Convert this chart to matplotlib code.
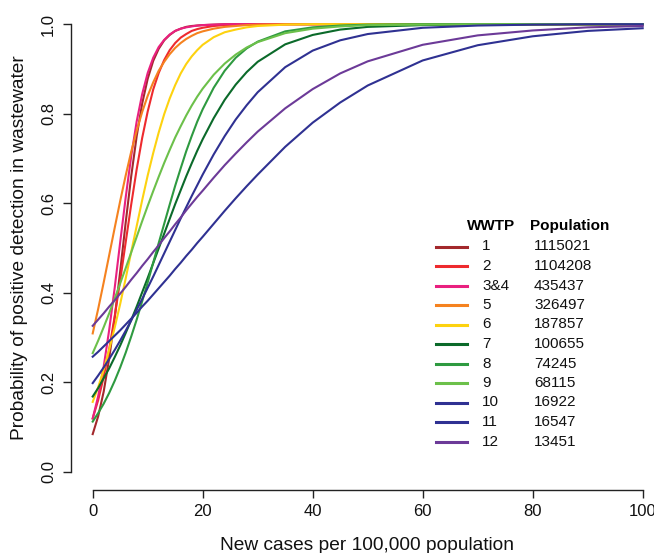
import matplotlib
matplotlib.use("Agg")
import matplotlib.pyplot as plt

plt.rcParams["font.family"] = ["Liberation Sans", "DejaVu Sans"]

# new cases per 100,000 (x positions where the curves were read)
cases = [0, 1, 2, 3, 4, 5, 6, 7, 8, 9, 10, 11, 12, 13, 14, 15, 16, 17, 18, 19, 20,
         22, 24, 26, 28, 30, 35, 40, 45, 50, 60, 70, 80, 90, 100]

# probability of positive detection
wwtp_1 = [0.084, 0.124, 0.179, 0.253, 0.344, 0.448, 0.557, 0.660, 0.750, 0.823, 0.878,
          0.918, 0.945, 0.964, 0.976, 0.985, 0.990, 0.994, 0.996, 0.997, 0.998,
          0.999, 1.000, 1.000, 1.000, 1.000, 1.000, 1.000, 1.000, 1.000, 1.000, 1.000, 1.000, 1.000, 1.000]
wwtp_2 = [0.119, 0.160, 0.212, 0.274, 0.347, 0.428, 0.513, 0.597, 0.676, 0.746, 0.805,
          0.854, 0.891, 0.920, 0.942, 0.958, 0.970, 0.978, 0.985, 0.989, 0.992,
          0.996, 0.998, 0.999, 1.000, 1.000, 1.000, 1.000, 1.000, 1.000, 1.000, 1.000, 1.000, 1.000, 1.000]
wwtp_34 = [0.119, 0.169, 0.235, 0.317, 0.411, 0.513, 0.613, 0.705, 0.783, 0.844, 0.891,
           0.925, 0.949, 0.965, 0.977, 0.985, 0.990, 0.993, 0.995, 0.997, 0.998,
           0.999, 1.000, 1.000, 1.000, 1.000, 1.000, 1.000, 1.000, 1.000, 1.000, 1.000, 1.000, 1.000, 1.000]
wwtp_5 = [0.309, 0.364, 0.423, 0.484, 0.545, 0.605, 0.662, 0.715, 0.762, 0.804, 0.840,
          0.870, 0.896, 0.916, 0.933, 0.947, 0.958, 0.967, 0.974, 0.980, 0.984,
          0.990, 0.994, 0.996, 0.998, 0.999, 1.000, 1.000, 1.000, 1.000, 1.000, 1.000, 1.000, 1.000, 1.000]
wwtp_6 = [0.156, 0.189, 0.228, 0.273, 0.322, 0.375, 0.432, 0.491, 0.549, 0.607, 0.662,
          0.712, 0.758, 0.799, 0.834, 0.864, 0.890, 0.911, 0.928, 0.942, 0.954,
          0.971, 0.982, 0.988, 0.993, 0.996, 0.999, 1.000, 1.000, 1.000, 1.000, 1.000, 1.000, 1.000, 1.000]
wwtp_7 = [0.168, 0.187, 0.209, 0.231, 0.256, 0.282, 0.310, 0.339, 0.369, 0.401, 0.433,
          0.466, 0.499, 0.532, 0.565, 0.598, 0.629, 0.660, 0.689, 0.717, 0.743,
          0.790, 0.831, 0.865, 0.893, 0.916, 0.955, 0.976, 0.988, 0.994, 0.998, 1.000, 1.000, 1.000, 1.000]
wwtp_8 = [0.112, 0.131, 0.152, 0.176, 0.203, 0.233, 0.266, 0.302, 0.340, 0.381, 0.423,
          0.467, 0.511, 0.554, 0.597, 0.639, 0.678, 0.716, 0.750, 0.782, 0.810,
          0.858, 0.896, 0.925, 0.946, 0.961, 0.984, 0.993, 0.997, 0.999, 1.000, 1.000, 1.000, 1.000, 1.000]
wwtp_9 = [0.265, 0.293, 0.323, 0.354, 0.387, 0.421, 0.455, 0.490, 0.525, 0.560, 0.594,
          0.627, 0.659, 0.690, 0.719, 0.747, 0.772, 0.796, 0.818, 0.838, 0.856,
          0.887, 0.912, 0.932, 0.948, 0.960, 0.980, 0.990, 0.995, 0.998, 0.999, 1.000, 1.000, 1.000, 1.000]
wwtp_10 = [0.198, 0.215, 0.233, 0.252, 0.272, 0.293, 0.315, 0.338, 0.362, 0.386, 0.411,
           0.436, 0.462, 0.488, 0.514, 0.540, 0.566, 0.591, 0.616, 0.640, 0.664,
           0.709, 0.750, 0.787, 0.819, 0.848, 0.904, 0.941, 0.964, 0.978, 0.992, 0.997, 0.999, 1.000, 1.000]
wwtp_11 = [0.257, 0.268, 0.280, 0.292, 0.304, 0.316, 0.329, 0.342, 0.355, 0.369, 0.382,
           0.396, 0.410, 0.424, 0.438, 0.453, 0.467, 0.482, 0.496, 0.511, 0.525,
           0.554, 0.583, 0.611, 0.638, 0.664, 0.726, 0.780, 0.825, 0.863, 0.919, 0.953, 0.973, 0.985, 0.991]
wwtp_12 = [0.326, 0.340, 0.354, 0.369, 0.383, 0.398, 0.413, 0.429, 0.444, 0.460, 0.475,
           0.491, 0.506, 0.522, 0.537, 0.553, 0.568, 0.584, 0.599, 0.614, 0.628,
           0.657, 0.685, 0.711, 0.736, 0.760, 0.812, 0.855, 0.890, 0.917, 0.954, 0.975, 0.986, 0.993, 0.996]

wwtp_names = ["1", "2", "3&4", "5", "6", "7", "8", "9", "10", "11", "12"]
populations = ["1115021", "1104208", "435437", "326497", "187857", "100655",
               "74245", "68115", "16922", "16547", "13451"]
colours = ["#a3282c", "#ee2a2e", "#e9207f", "#f5821f", "#fdd20f", "#0b6a2a",
           "#2e9a40", "#6cc04a", "#2f3192", "#2f3192", "#6c3a98"]
curves = [wwtp_1, wwtp_2, wwtp_34, wwtp_5, wwtp_6, wwtp_7, wwtp_8, wwtp_9,
          wwtp_10, wwtp_11, wwtp_12]

W, H = 654, 553
fig = plt.figure(figsize=(W / 100, H / 100), dpi=100)
ax = fig.add_axes([70.7 / W, 1 - 489.6 / H, 594 / W, 483.3 / H])

for vals, col in zip(curves, colours):
    ax.plot(cases, vals, color=col, lw=1.5)

ax.set_xlim(-4, 104)
ax.set_ylim(-0.04, 1.04)
ax.spines[["top", "right"]].set_visible(False)
ax.spines["left"].set_bounds(0, 1)
ax.spines["bottom"].set_bounds(0, 100)
for s in ["left", "bottom"]:
    ax.spines[s].set_color("#222222")
    ax.spines[s].set_linewidth(1.0)
ax.set_xticks([0, 20, 40, 60, 80, 100])
ax.set_yticks([0, 0.2, 0.4, 0.6, 0.8, 1.0])
ax.set_yticklabels(["0.0", "0.2", "0.4", "0.6", "0.8", "1.0"])
ax.tick_params(direction="out", length=5.5, width=1.0, color="#222222",
               labelsize=12, labelcolor="#111111")
ax.tick_params(axis="x", pad=5)
ax.tick_params(axis="y", labelrotation=90, pad=5)
for lab in ax.get_yticklabels():
    lab.set_va("center")

def fx(px):
    return px / W

def fy(py):
    return 1 - py / H

fig.text(fx(367), fy(545), "New cases per 100,000 population", ha="center",
         va="center", fontsize=13.8, color="#111111")
fig.text(fx(20), fy(248), "Probability of positive detection in wastewater",
         ha="center", va="center", rotation=90, fontsize=13.8, color="#111111")

# legend, drawn as two text columns like the R original
fig.text(fx(467), fy(226.5), "WWTP", fontsize=11, fontweight="bold",
         va="center", ha="left")
fig.text(fx(530), fy(226.5), "Population", fontsize=11, fontweight="bold",
         va="center", ha="left")
for i in range(len(wwtp_names)):
    yy = 246.5 + 19.5 * i
    fig.add_artist(plt.Line2D([fx(436), fx(467)], [fy(yy), fy(yy)],
                              color=colours[i], lw=2.2))
    fig.text(fx(482), fy(yy), wwtp_names[i], fontsize=11, va="center",
             ha="left", color="#111111")
    fig.text(fx(534), fy(yy), populations[i], fontsize=11, va="center",
             ha="left", color="#111111")

fig.savefig("out.png", dpi=100)
